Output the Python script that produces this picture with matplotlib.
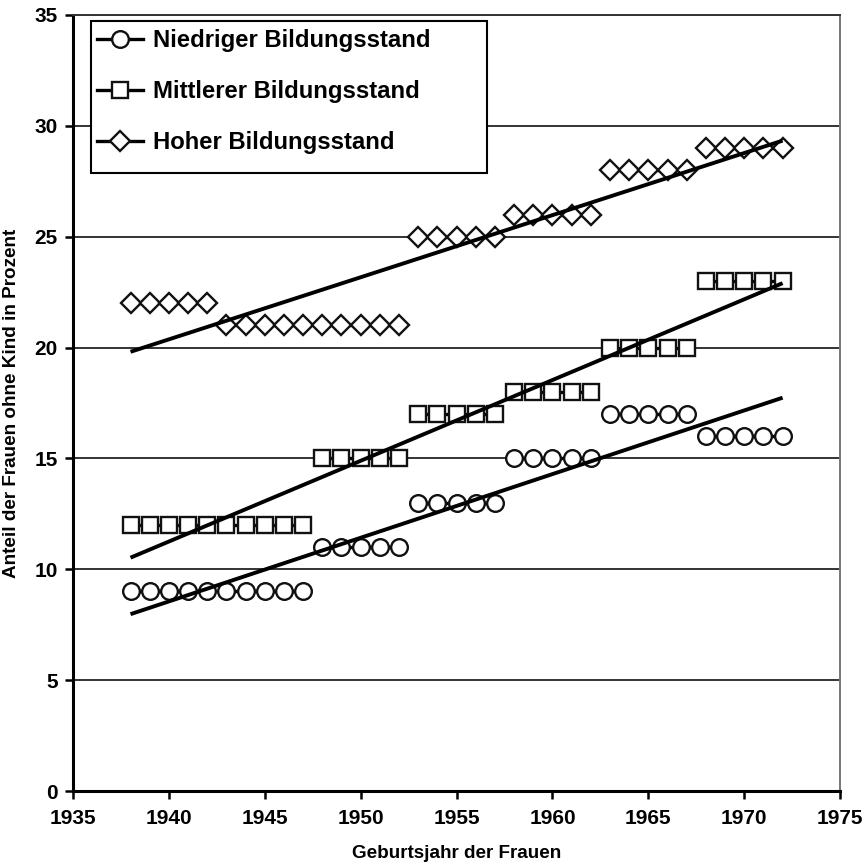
import numpy as np
import matplotlib
matplotlib.use("Agg")
import matplotlib.pyplot as plt
from matplotlib.patches import Rectangle

plt.rcParams['font.family'] = ['Liberation Sans', 'DejaVu Sans']

years = list(range(1938, 1973))
cohort_starts = [1938, 1943, 1948, 1953, 1958, 1963, 1968]

niedrig = [9]*10 + [11]*5 + [13]*5 + [15]*5 + [17]*5 + [16]*5
mittel = [12]*10 + [15]*5 + [17]*5 + [18]*5 + [20]*5 + [23]*5
hoch = [22]*5 + [21]*10 + [25]*5 + [26]*5 + [28]*5 + [29]*5

series = [
    ("Niedriger Bildungsstand", niedrig, "o", 12),
    ("Mittlerer Bildungsstand", mittel, "s", 12),
    ("Hoher Bildungsstand", hoch, "D", 10.5),
]

fig = plt.figure(figsize=(8.67, 8.66), dpi=100)
ax = fig.add_axes([0.0842, 0.0866, 0.8848, 0.8961])

yrs = np.array(years)
for label, vals, mk, ms in series:
    v = np.array(vals, dtype=float)
    first = True
    for i, s in enumerate(cohort_starts):
        e = cohort_starts[i + 1] if i + 1 < len(cohort_starts) else yrs[-1] + 1
        m = (yrs >= s) & (yrs < e)
        ax.plot(yrs[m], v[m], color='black', lw=2.4, marker=mk, ms=ms,
                mfc='white', mec='#111111', mew=1.7, zorder=3,
                label=label if first else None)
        first = False
    # linear trend
    k, b = np.polyfit(yrs, v, 1)
    ax.plot([yrs[0], yrs[-1]], [k * yrs[0] + b, k * yrs[-1] + b],
            color='black', lw=2.8, zorder=4, solid_capstyle='butt')

ax.set_xlim(1935, 1975)
ax.set_ylim(0, 35)
ax.set_xticks(range(1935, 1976, 5))
ax.set_yticks(range(0, 36, 5))
for y in range(5, 36, 5):
    ax.axhline(y, color='#333333', lw=1.4, zorder=1)

ax.spines['left'].set_linewidth(2.2)
ax.spines['bottom'].set_linewidth(2.2)
ax.spines['right'].set_color('#777777')
ax.spines['right'].set_linewidth(1.4)
ax.spines['top'].set_color('#333333')
ax.spines['top'].set_linewidth(1.4)

ax.tick_params(axis='both', direction='out', length=6, width=1.8,
               labelsize=15, pad=5)
ax.tick_params(axis='x', pad=7)
for t in ax.get_xticklabels() + ax.get_yticklabels():
    t.set_fontweight('bold')

ax.set_xlabel("Geburtsjahr der Frauen", fontsize=13.6, fontweight='bold', labelpad=12)
ax.set_ylabel("Anteil der Frauen ohne Kind in Prozent", fontsize=13.6,
              fontweight='bold', labelpad=10)

# legend frame drawn separately
frame = Rectangle((0.0235, 0.7964), 0.540 - 0.0235, 0.9923 - 0.7964,
                  transform=ax.transAxes, facecolor='white', edgecolor='black',
                  lw=1.5, zorder=5)
ax.add_patch(frame)

leg = ax.legend(loc='upper left', bbox_to_anchor=(0.031, 0.9815),
                prop={'weight': 'bold', 'size': 17.2}, frameon=False,
                handlelength=1.95, labelspacing=1.17, borderpad=0,
                handletextpad=0.4, borderaxespad=0)
leg.set_zorder(6)

fig.savefig("out.png", dpi=100)
